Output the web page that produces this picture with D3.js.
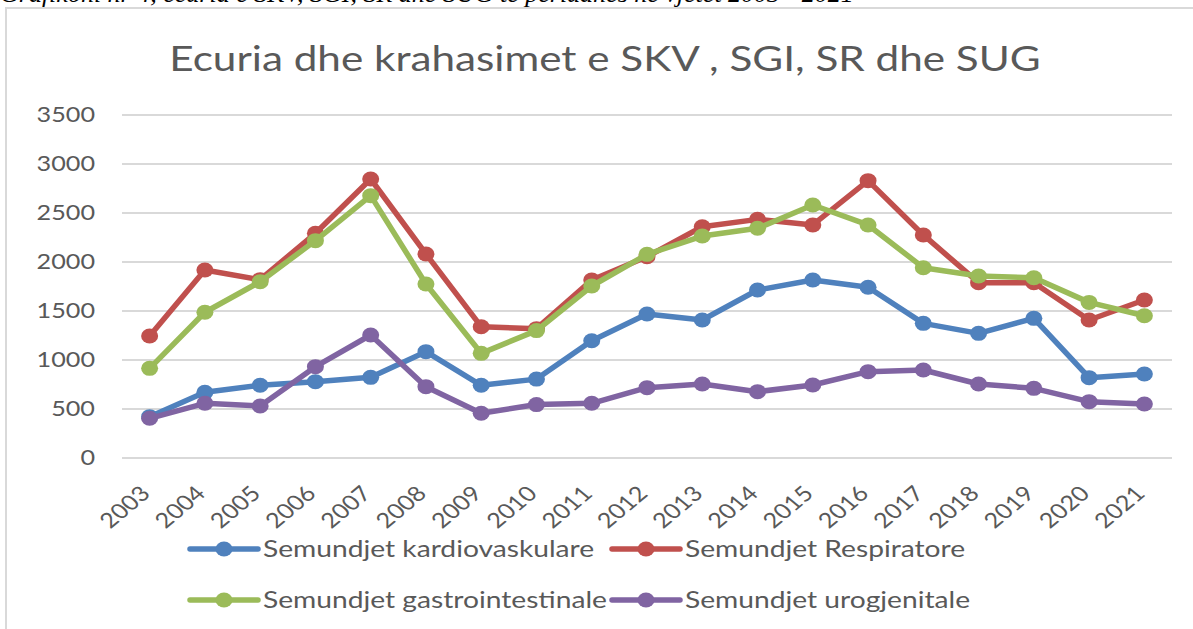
<!DOCTYPE html>
<html>
<head>
<meta charset="utf-8">
<script src="https://cdn.jsdelivr.net/npm/d3@7"></script>
<style>
  html, body { margin: 0; padding: 0; background: #fff; }
  svg { display: block; }
  text { font-family: Lato, "Open Sans", sans-serif; fill: #595959; }
</style>
</head>
<body>
<svg width="1193" height="629"></svg>
<script>
const width = 1193, height = 629;

// values
const years = ["2003","2004","2005","2006","2007","2008","2009","2010","2011","2012",
               "2013","2014","2015","2016","2017","2018","2019","2020","2021"];
const kardiovaskulare = [422, 670, 742, 779, 823, 1085, 742, 805, 1197, 1469, 1408, 1714, 1816, 1742, 1374, 1272, 1425, 820, 857];
const respiratore     = [1245, 1918, 1820, 2293, 2847, 2082, 1340, 1320, 1816, 2054, 2360, 2435, 2378, 2830, 2276, 1789, 1789, 1408, 1612];
const gastro          = [915, 1487, 1799, 2218, 2677, 1776, 1068, 1300, 1755, 2078, 2265, 2344, 2582, 2378, 1942, 1857, 1840, 1588, 1452];
const urogjenitale    = [405, 558, 531, 932, 1255, 728, 456, 545, 558, 718, 755, 677, 745, 881, 898, 755, 711, 575, 551];
const yTicks = [0, 500, 1000, 1500, 2000, 2500, 3000, 3500];

const seriesNames = ["Semundjet kardiovaskulare", "Semundjet Respiratore",
                     "Semundjet gastrointestinale", "Semundjet urogjenitale"];
const seriesColors = ["#4F81BD", "#C0504D", "#9BBB59", "#8064A2"];

const series = [kardiovaskulare, respiratore, gastro, urogjenitale].map((values, i) => ({
    name: seriesNames[i],
    color: seriesColors[i],
    points: values.map((v, j) => ({ year: years[j], value: v }))
}));

const SX = 1.2; // the original is a bit stretched sideways

const svg = d3.select("svg");
svg.append("rect").attr("width", width).attr("height", height).attr("fill", "#fff");

// caption of the page, only its lower edge shows above the chart
svg.append("text")
    .attr("x", 0).attr("y", 2)
    .style("font-family", "'Liberation Serif', serif")
    .style("font-style", "italic")
    .style("font-size", "26px")
    .style("fill", "#000")
    .text("Grafikoni nr 4, ecuria e SKV, SGI, SR dhe SUG të periudhës në vjetët 2003 - 2021");

// chart frame (runs off right and bottom)
svg.append("rect")
    .attr("x", 6).attr("y", 8)
    .attr("width", 1300).attr("height", 800)
    .attr("fill", "none")
    .attr("stroke", "#d9d9d9")
    .attr("stroke-width", 2);

const x = d3.scaleBand().domain(years).range([122, 1172]).padding(0);
const y = d3.scaleLinear().domain([0, 3500]).range([458, 115]);
const cx = d => x(d) + x.bandwidth() / 2;

// title
svg.append("text")
    .attr("transform", `translate(605,71) scale(${SX},1)`)
    .attr("text-anchor", "middle")
    .style("font-size", "35.2px")
    .text("Ecuria dhe krahasimet e SKV , SGI, SR dhe SUG");

// gridlines
svg.append("g")
    .selectAll("line")
    .data(yTicks)
    .enter().append("line")
    .attr("x1", 122).attr("x2", 1172)
    .attr("y1", d => y(d)).attr("y2", d => y(d))
    .attr("stroke", "#d9d9d9")
    .attr("stroke-width", 2);

// y labels
svg.append("g")
    .selectAll("text")
    .data(yTicks)
    .enter().append("text")
    .attr("transform", d => `translate(95,${y(d)}) scale(${SX},1)`)
    .attr("text-anchor", "end")
    .attr("dy", "0.35em")
    .style("font-size", "21px")
    .text(d => d);

// x labels, rotated
svg.append("g")
    .selectAll("text")
    .data(years)
    .enter().append("text")
    .attr("transform", d => `translate(${cx(d) + 2},495) scale(${SX},1) rotate(-45)`)
    .attr("text-anchor", "end")
    .style("font-size", "21px")
    .text(d => d);

const line = d3.line().x(d => cx(d.year)).y(d => y(d.value));

const g = svg.append("g")
    .selectAll("g")
    .data(series)
    .enter().append("g");

g.append("path")
    .attr("d", d => line(d.points))
    .attr("fill", "none")
    .attr("stroke", d => d.color)
    .attr("stroke-width", 5.5)
    .attr("stroke-linejoin", "round");

g.selectAll("ellipse")
    .data(d => d.points.map(p => Object.assign({ color: d.color }, p)))
    .enter().append("ellipse")
    .attr("cx", d => cx(d.year))
    .attr("cy", d => y(d.value))
    .attr("rx", 8.5).attr("ry", 7.5)
    .attr("fill", d => d.color);

// legend, two rows
const legendPos = [[190, 549], [612, 549], [190, 600], [612, 600]];
const legend = svg.append("g")
    .selectAll("g")
    .data(series)
    .enter().append("g")
    .attr("transform", (d, i) => `translate(${legendPos[i][0]},${legendPos[i][1]})`);

legend.append("line")
    .attr("x1", 0).attr("x2", 68)
    .attr("stroke", d => d.color)
    .attr("stroke-width", 5.5)
    .attr("stroke-linecap", "round");
legend.append("ellipse")
    .attr("cx", 34).attr("rx", 8.5).attr("ry", 7.5)
    .attr("fill", d => d.color);
legend.append("text")
    .attr("transform", `translate(73,0) scale(${SX},1)`)
    .attr("dy", "0.35em")
    .style("font-size", "23.5px")
    .text(d => d.name);
</script>
</body>
</html>
